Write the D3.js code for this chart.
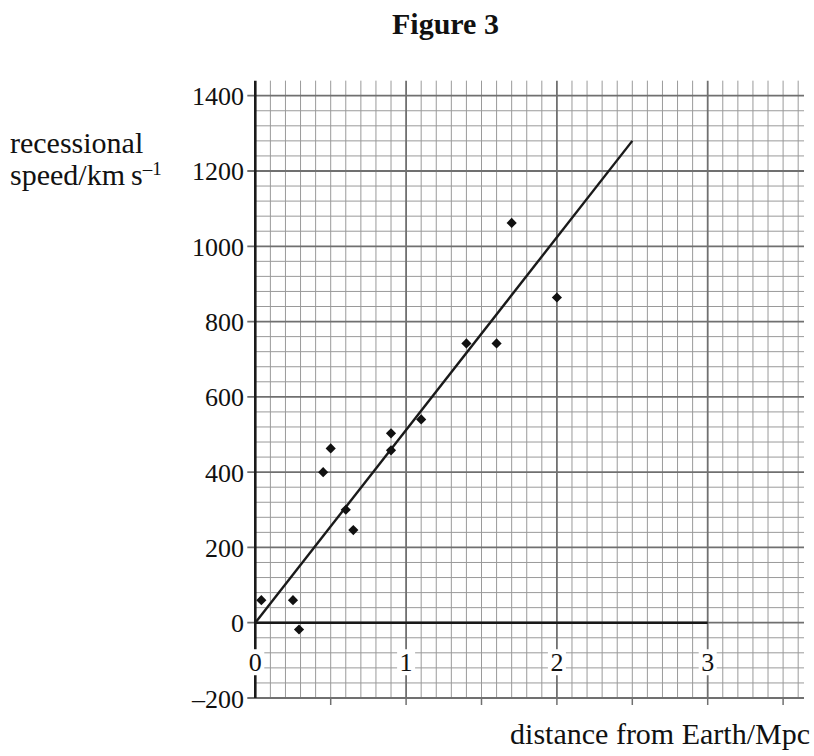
<!DOCTYPE html>
<html>
<head>
<meta charset="utf-8">
<script src="https://cdn.jsdelivr.net/npm/d3@7"></script>
<style>
  html, body { margin: 0; padding: 0; background: #fff; }
  svg { display: block; }
  text { font-family: "Liberation Serif", "Times New Roman", serif; fill: #111; }
</style>
</head>
<body>
<svg id="chart" width="814" height="756"></svg>
<script>
// ---- data ----
const distance = [0.04, 0.25, 0.29, 0.45, 0.50, 0.60, 0.65, 0.90, 0.90, 1.10, 1.40, 1.60, 1.70, 2.00];
const speed    = [60,   60,   -18,  400,  463,  300,  246,  503,  458,  540,  742,  742,  1062, 864];
const fitDistance = [0, 2.5];
const fitSpeed    = [0, 1280];
const xTickLabels = [0, 1, 2, 3];
const yTickLabels = [-200, 0, 200, 400, 600, 800, 1000, 1200, 1400];

const svg = d3.select("#chart");

const x = d3.scaleLinear().domain([0, 3]).range([255.3, 707.7]);
const y = d3.scaleLinear().domain([-200, 1400]).range([698, 95.7]);

const xRight = 804;
const yTop = y(1440);

// ---- grid ----
const grid = svg.append("g");
const vMinor = d3.range(1, 37).map(i => i / 10);
grid.selectAll("line.vmin").data(vMinor.filter(v => Math.round(v * 10) % 10 !== 0))
  .join("line").attr("class", "vmin")
  .attr("x1", d => x(d)).attr("x2", d => x(d))
  .attr("y1", yTop).attr("y2", y(-200))
  .attr("stroke", "#9a9a9a").attr("stroke-width", 1);
const hVals = d3.range(0, 41).map(j => -200 + 40 * j);
grid.selectAll("line.hmin").data(hVals.filter(v => v % 200 !== 0))
  .join("line").attr("class", "hmin")
  .attr("x1", x(0)).attr("x2", xRight)
  .attr("y1", d => y(d)).attr("y2", d => y(d))
  .attr("stroke", "#9a9a9a").attr("stroke-width", 1);
// major
grid.selectAll("line.vmaj").data(vMinor.filter(v => Math.round(v * 10) % 10 === 0))
  .join("line").attr("class", "vmaj")
  .attr("x1", d => x(d)).attr("x2", d => x(d))
  .attr("y1", yTop).attr("y2", y(-200))
  .attr("stroke", "#707070").attr("stroke-width", 1.8);
grid.selectAll("line.hmaj").data(hVals.filter(v => v % 200 === 0))
  .join("line").attr("class", "hmaj")
  .attr("x1", d => x(0) - 8).attr("x2", xRight)
  .attr("y1", d => y(d)).attr("y2", d => y(d))
  .attr("stroke", "#707070").attr("stroke-width", 1.8);

// x ticks below bottom at every 0.5
grid.selectAll("line.xt").data(d3.range(1, 8).map(i => i * 0.5))
  .join("line").attr("class", "xt")
  .attr("x1", d => x(d)).attr("x2", d => x(d))
  .attr("y1", y(-200)).attr("y2", y(-200) + 7)
  .attr("stroke", "#707070").attr("stroke-width", 1.5);

// ---- axes lines ----
svg.append("line")
  .attr("x1", x(0)).attr("x2", x(0)).attr("y1", yTop).attr("y2", y(-200))
  .attr("stroke", "#1a1a1a").attr("stroke-width", 2.6);
svg.append("line")
  .attr("x1", x(0)).attr("x2", x(3)).attr("y1", y(0)).attr("y2", y(0))
  .attr("stroke", "#1a1a1a").attr("stroke-width", 2.6);

// ---- x tick labels with white backgrounds ----
const xl = svg.append("g");
xTickLabels.forEach(v => {
  xl.append("rect")
    .attr("x", x(v) - 9).attr("y", y(-105) - 13)
    .attr("width", 18).attr("height", 26).attr("fill", "#fff");
  xl.append("text")
    .attr("x", x(v)).attr("y", y(-105))
    .attr("text-anchor", "middle").attr("dominant-baseline", "central")
    .attr("font-size", 26).text(v);
});

// ---- y tick labels ----
svg.append("g").selectAll("text").data(yTickLabels).join("text")
  .attr("x", 244).attr("y", d => y(d) + 1)
  .attr("text-anchor", "end").attr("dominant-baseline", "central")
  .attr("font-size", 26)
  .text(d => d < 0 ? "\u2013" + Math.abs(d) : d);

// ---- fit line ----
const line = d3.line().x((d, i) => x(fitDistance[i])).y((d, i) => y(fitSpeed[i]));
svg.append("path").datum(fitDistance)
  .attr("d", line).attr("fill", "none")
  .attr("stroke", "#1a1a1a").attr("stroke-width", 2.4);

// ---- points (diamonds) ----
const sym = d3.symbol().type(d3.symbolDiamond2).size(66);
svg.append("g").selectAll("path").data(distance).join("path")
  .attr("transform", (d, i) => `translate(${x(d)},${y(speed[i])})`)
  .attr("d", sym).attr("fill", "#111");

// ---- titles ----
svg.append("text").attr("x", 392).attr("y", 34)
  .attr("font-size", 30).attr("font-weight", "bold").text("Figure 3");

svg.append("text").attr("x", 10).attr("y", 153).attr("font-size", 30).text("recessional");
const sp = svg.append("text").attr("x", 10).attr("y", 185).attr("font-size", 30);
sp.append("tspan").text("speed/km\u2009s");
sp.append("tspan").attr("font-size", 19).attr("dy", -10).text("\u20131");

svg.append("text").attr("x", 810).attr("y", 744)
  .attr("text-anchor", "end").attr("font-size", 30).text("distance from Earth/Mpc");
</script>
</body>
</html>
